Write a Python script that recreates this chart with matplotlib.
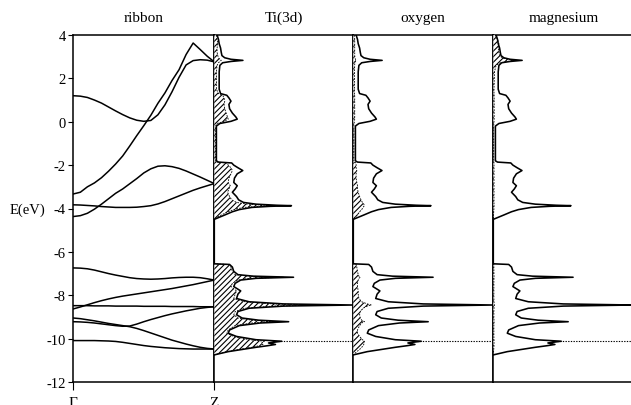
import matplotlib
matplotlib.use("Agg")
import matplotlib.pyplot as plt

plt.rcParams['font.family'] = ['Liberation Serif', 'DejaVu Serif']
plt.rcParams['axes.unicode_minus'] = False
plt.rcParams['hatch.linewidth'] = 0.8

# ---------------- band structure (ribbon) ----------------
band_k = [0.0, 0.05, 0.1, 0.15, 0.2, 0.25, 0.3, 0.35, 0.4, 0.45, 0.5,
          0.55, 0.6, 0.65, 0.7, 0.75, 0.8, 0.85, 0.9, 0.95, 1.0]
band1 = [1.20, 1.18, 1.12, 1.00, 0.86, 0.68, 0.50, 0.33, 0.18, 0.07, 0.02,
         0.06, 0.32, 0.78, 1.38, 2.05, 2.62, 2.82, 2.86, 2.84, 2.76]
band2 = [-3.33, -3.25, -3.00, -2.82, -2.58, -2.28, -1.95, -1.58, -1.12, -0.64, -0.18,
         0.30, 0.85, 1.33, 1.90, 2.40, 3.10, 3.63, 3.33, 3.02, 2.76]
band3 = [-4.37, -4.33, -4.22, -4.03, -3.80, -3.55, -3.30, -3.10, -2.86, -2.62, -2.36,
         -2.17, -2.05, -2.03, -2.07, -2.15, -2.27, -2.41, -2.55, -2.70, -2.85]
band4 = [-3.83, -3.84, -3.86, -3.88, -3.91, -3.93, -3.95, -3.95, -3.95, -3.94, -3.91,
         -3.87, -3.79, -3.68, -3.55, -3.42, -3.29, -3.16, -3.05, -2.95, -2.85]
band5 = [-6.74, -6.75, -6.78, -6.84, -6.92, -7.00, -7.07, -7.13, -7.19, -7.23, -7.25,
         -7.26, -7.25, -7.23, -7.20, -7.18, -7.17, -7.17, -7.19, -7.24, -7.30]
band6 = [-8.63, -8.54, -8.44, -8.34, -8.25, -8.17, -8.10, -8.04, -7.99, -7.94, -7.89,
         -7.84, -7.79, -7.74, -7.69, -7.63, -7.57, -7.51, -7.44, -7.37, -7.30]
band7 = [-8.48, -8.48, -8.48, -8.49, -8.49, -8.49, -8.50, -8.50, -8.50, -8.50, -8.51,
         -8.51, -8.51, -8.51, -8.52, -8.52, -8.52, -8.52, -8.53, -8.53, -8.53]
band8 = [-9.05, -9.08, -9.13, -9.18, -9.24, -9.30, -9.35, -9.40, -9.45, -9.53, -9.63,
         -9.74, -9.85, -9.96, -10.07, -10.16, -10.25, -10.33, -10.40, -10.45, -10.48]
band9 = [-9.22, -9.23, -9.25, -9.28, -9.32, -9.36, -9.40, -9.43, -9.42, -9.33, -9.22,
         -9.12, -9.03, -8.94, -8.86, -8.79, -8.72, -8.66, -8.60, -8.56, -8.53]
band10 = [-10.09, -10.09, -10.09, -10.09, -10.10, -10.11, -10.13, -10.17, -10.22, -10.27, -10.32,
          -10.36, -10.39, -10.42, -10.44, -10.46, -10.47, -10.48, -10.48, -10.48, -10.48]
bands = [band1, band2, band3, band4, band5, band6, band7, band8, band9, band10]

k_labels = ['Γ', 'Z']
energy_ticks = [4, 2, 0, -2, -4, -6, -8, -10, -12]
fermi_level = -10.1

# ---------------- density of states ----------------
dos_E = [4.00, 3.80, 3.60, 3.40, 3.20, 3.05, 2.95, 2.88, 2.83, 2.78, 2.72, 2.60, 2.30,
         1.50, 1.30, 1.22, 1.10, 0.95, 0.80, 0.60, 0.40, 0.22, 0.12, 0.02, -0.08, -0.20,
         -1.80, -1.86, -1.90, -2.00, -2.12, -2.25, -2.40, -2.60, -2.80, -2.95, -3.10,
         -3.25, -3.45, -3.60, -3.72, -3.80, -3.85, -3.87, -3.90, -3.95, -4.05, -4.15,
         -4.30, -4.50,
         -6.55, -6.58, -6.70, -6.90, -7.05, -7.12, -7.17, -7.22, -7.30, -7.45, -7.60,
         -7.80, -7.95, -8.15, -8.30, -8.40, -8.45, -8.50, -8.60, -8.75, -8.90, -9.05,
         -9.15, -9.22, -9.28, -9.40, -9.60, -9.75, -9.90, -10.05, -10.12, -10.20,
         -10.27, -10.33, -10.40, -10.50, -10.60, -10.75]
dos_total = [0.02, 0.03, 0.035, 0.045, 0.05, 0.055, 0.075, 0.12, 0.206, 0.12, 0.06, 0.04, 0.035,
             0.035, 0.045, 0.09, 0.105, 0.12, 0.105, 0.11, 0.13, 0.155, 0.165, 0.12, 0.04, 0.015,
             0.015, 0.03, 0.125, 0.14, 0.17, 0.205, 0.165, 0.145, 0.14, 0.165, 0.15,
             0.13, 0.16, 0.175, 0.21, 0.30, 0.45, 0.555, 0.40, 0.27, 0.18, 0.13,
             0.075, 0.0,
             0.0, 0.11, 0.13, 0.14, 0.17, 0.28, 0.57, 0.30, 0.19, 0.15, 0.14,
             0.19, 0.17, 0.16, 0.25, 0.50, 1.0, 0.50, 0.25, 0.17, 0.16, 0.20,
             0.32, 0.535, 0.33, 0.18, 0.11, 0.10, 0.16, 0.30, 0.485, 0.39,
             0.44, 0.38, 0.30, 0.20, 0.10, 0.0]
dos_ti = [0.015, 0.02, 0.025, 0.02, 0.02, 0.025, 0.03, 0.04, 0.05, 0.04, 0.03, 0.02, 0.015,
          0.015, 0.03, 0.06, 0.07, 0.075, 0.07, 0.075, 0.085, 0.095, 0.10, 0.07, 0.02, 0.01,
          0.01, 0.02, 0.09, 0.10, 0.12, 0.13, 0.12, 0.105, 0.10, 0.115, 0.105,
          0.095, 0.11, 0.125, 0.16, 0.24, 0.37, 0.45, 0.33, 0.21, 0.14, 0.10,
          0.05, 0.0,
          0.0, 0.10, 0.12, 0.13, 0.15, 0.25, 0.50, 0.26, 0.17, 0.13, 0.12,
          0.16, 0.15, 0.14, 0.22, 0.42, 0.80, 0.42, 0.22, 0.15, 0.14, 0.17,
          0.27, 0.43, 0.27, 0.15, 0.10, 0.09, 0.14, 0.25, 0.36, 0.34,
          0.35, 0.32, 0.27, 0.18, 0.09, 0.0]
dos_o = [0.008, 0.01, 0.01, 0.01, 0.01, 0.01, 0.012, 0.015, 0.02, 0.015, 0.01, 0.01, 0.008,
         0.008, 0.008, 0.01, 0.01, 0.01, 0.01, 0.01, 0.01, 0.01, 0.01, 0.008, 0.005, 0.004,
         0.004, 0.006, 0.02, 0.02, 0.02, 0.025, 0.02, 0.02, 0.025, 0.03, 0.03,
         0.035, 0.045, 0.055, 0.065, 0.075, 0.08, 0.08, 0.075, 0.07, 0.06, 0.045,
         0.03, 0.0,
         0.0, 0.02, 0.025, 0.03, 0.035, 0.04, 0.05, 0.04, 0.035, 0.03, 0.03,
         0.035, 0.035, 0.04, 0.06, 0.10, 0.13, 0.10, 0.07, 0.05, 0.045, 0.05,
         0.06, 0.08, 0.06, 0.045, 0.03, 0.03, 0.045, 0.065, 0.08, 0.075,
         0.075, 0.07, 0.06, 0.045, 0.025, 0.0]
dos_mg = [0.012, 0.03, 0.04, 0.035, 0.04, 0.045, 0.065, 0.10, 0.155, 0.10, 0.05, 0.02, 0.008,
          0.005, 0.005, 0.006, 0.006, 0.006, 0.006, 0.006, 0.006, 0.006, 0.006, 0.005, 0.004, 0.003,
          0.003, 0.004, 0.005, 0.005, 0.005, 0.005, 0.005, 0.005, 0.005, 0.005, 0.005,
          0.005, 0.005, 0.005, 0.005, 0.005, 0.006, 0.006, 0.005, 0.005, 0.004, 0.003,
          0.002, 0.0,
          0.0, 0.004, 0.004, 0.004, 0.005, 0.005, 0.006, 0.005, 0.004, 0.004, 0.004,
          0.004, 0.004, 0.004, 0.005, 0.006, 0.008, 0.006, 0.005, 0.004, 0.004, 0.004,
          0.005, 0.006, 0.005, 0.004, 0.004, 0.004, 0.004, 0.005, 0.006, 0.005,
          0.005, 0.005, 0.004, 0.003, 0.002, 0.0]

panel_titles = ['ribbon', 'Ti(3d)', 'oxygen', 'magnesium']
projections = [dos_ti, dos_o, dos_mg]

# ---------------- figure ----------------
W, H = 631, 406
fig = plt.figure(figsize=(W / 100, H / 100), dpi=100)
bottom = 1 - 383 / H
height = 347 / H

ax_b = fig.add_axes([73.3 / W, bottom, 141 / W, height])
for b in bands:
    ax_b.plot(band_k, b, color='black', lw=1.1)
ax_b.set_xlim(0, 1)
ax_b.set_ylim(-12, 4)
ax_b.set_yticks(energy_ticks)
ax_b.set_yticklabels([str(t) for t in energy_ticks], fontsize=10.5)
ax_b.set_xticks([0, 1])
ax_b.set_xticklabels(k_labels, fontsize=11)
ax_b.tick_params(axis='y', direction='out', length=3.5, width=0.8, pad=2)
ax_b.tick_params(axis='x', direction='out', length=6, width=0.8, pad=4)
ax_b.set_title(panel_titles[0], fontsize=11, pad=10)
for s in ax_b.spines.values():
    s.set_linewidth(1.1)

fig.text(10 / W, 1 - 210 / H, 'E(eV)', fontsize=10.5, ha='left', va='center')

lefts = [214.3, 353.3, 493.3]
widths = [139, 140, 140]
for i in range(3):
    ax = fig.add_axes([lefts[i] / W, bottom, widths[i] / W, height])
    ax.set_xlim(0, 1)
    ax.set_ylim(-12, 4)
    ax.set_xticks([])
    ax.set_yticks([])
    ax.axhline(fermi_level, color='black', lw=0.8, ls=(0, (1.2, 1.2)), zorder=1)
    ax.fill_betweenx(dos_E, 0, dos_total, facecolor='white', edgecolor='none', zorder=2)
    ax.fill_betweenx(dos_E, 0, projections[i], facecolor='white', edgecolor='black',
                     hatch='//////', lw=0, zorder=3)
    ax.plot(projections[i], dos_E, color='black', lw=0.6, ls=(0, (2, 1.5)), zorder=4)
    ax.plot(dos_total, dos_E, color='black', lw=1.15, zorder=5)
    ax.set_title(panel_titles[i + 1], fontsize=11, pad=10)
    for s in ax.spines.values():
        s.set_linewidth(1.1)
    if i == 2:
        ax.spines['right'].set_visible(False)

fig.savefig('out.png', dpi=100)
